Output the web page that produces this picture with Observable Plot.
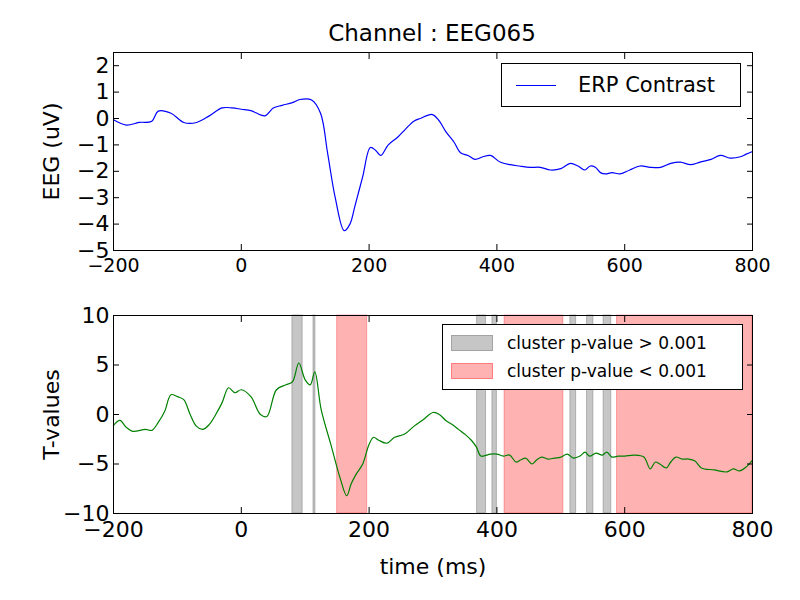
<!DOCTYPE html>
<html>
<head>
<meta charset="utf-8">
<script src="https://cdn.jsdelivr.net/npm/d3@7"></script>
<script src="https://cdn.jsdelivr.net/npm/@observablehq/plot@0.6"></script>
<style>
  body { margin: 0; background: white; font-family: "DejaVu Sans", sans-serif; }
  #wrap { position: relative; width: 800px; height: 600px; }
  .title { position: absolute; top: 20px; width: 800px; left: 32px; text-align: center; font-size: 23px; }
  .legend { position: absolute; background: white; border: 1.5px solid black; font-size: 17px; }
  .row { display: flex; align-items: center; height: 28px; }
  .sw { width: 40px; height: 14px; margin: 0 14px 0 8px; }
  svg { display: block; }
</style>
</head>
<body>
<div id="wrap">
<div class="title">Channel : EEG065</div>
<div id="chart"></div>
</div>
<script>
// ERP contrast (uV), time in ms
const erpTime = [-200,-180,-160,-140,-130,-110,-90,-70,-50,-30,-14,0,15,37,50,64,80,92,110,124,135,147,161,170,178,190,202,210,218,230,245,257,270,280,299,310,320,333,343,355,366,378,390,405,421,435,452,468,484,500,515,527,538,546,554,562,570,580,593,608,624,640,656,672,687,703,718,735,750,765,781,790,800];
const erpValue = [-0.05,-0.25,-0.15,-0.1,0.28,0.2,-0.15,-0.15,0.1,0.4,0.4,0.35,0.3,0.1,0.4,0.5,0.6,0.72,0.7,0.2,-1.3,-3.0,-4.25,-4.0,-3.3,-2.2,-1.1,-1.2,-1.4,-1.0,-0.7,-0.4,-0.1,0.0,0.15,-0.1,-0.5,-0.9,-1.3,-1.4,-1.55,-1.45,-1.4,-1.65,-1.75,-1.8,-1.85,-1.85,-1.95,-1.9,-1.7,-1.8,-1.95,-1.8,-1.85,-2.05,-2.1,-2.05,-2.1,-1.95,-1.8,-1.85,-1.85,-1.7,-1.65,-1.75,-1.65,-1.55,-1.4,-1.5,-1.45,-1.35,-1.25];

// T-values
const tTime = [-200,-190,-180,-170,-150,-140,-130,-120,-110,-100,-90,-80,-70,-60,-50,-40,-30,-20,-10,0,15,30,40,55,70,80,90,100,108,115,125,140,155,165,172,180,190,200,207,215,228,240,255,270,285,300,310,320,330,340,350,360,368,375,390,400,410,420,430,437,445,455,462,470,480,490,500,510,520,530,538,545,555,565,572,580,590,600,615,630,640,648,655,665,672,680,690,700,710,720,740,760,770,780,790,800];
const tValue = [-1.1,-0.6,-1.3,-1.7,-1.5,-1.6,-0.8,0.3,2.0,1.8,1.5,0.0,-1.2,-1.5,-1.0,0.0,1.2,2.7,2.2,2.5,1.8,0.0,-0.2,2.5,3.0,3.3,5.2,3.5,3.0,4.3,0.5,-3.0,-6.5,-8.2,-7.0,-6.0,-5.0,-3.0,-2.3,-2.6,-2.9,-2.3,-2.0,-1.2,-0.5,0.2,0.0,-0.6,-1.0,-1.5,-2.0,-2.6,-3.3,-4.2,-4.0,-4.0,-4.2,-4.1,-4.8,-4.6,-4.4,-5.0,-4.6,-4.3,-4.5,-4.4,-4.3,-4.0,-4.4,-4.2,-3.8,-4.2,-3.9,-4.1,-3.8,-4.3,-4.2,-4.2,-4.1,-4.3,-5.5,-4.8,-5.0,-5.4,-4.8,-4.3,-4.5,-4.5,-4.7,-5.4,-5.6,-5.8,-5.5,-5.7,-5.3,-4.6];

// clusters [start, end] in ms
const grayStart = [80, 113, 369, 393, 515, 541, 567];
const grayEnd   = [96, 116, 383, 400, 524, 551, 579];
const redStart  = [150, 412, 588];
const redEnd    = [197, 504, 800];

const erp = erpTime.map((t, i) => ({t, v: erpValue[i]}));
const tv = tTime.map((t, i) => ({t, v: tValue[i]}));
const gray = grayStart.map((s, i) => ({s, e: grayEnd[i]}));
const red = redStart.map((s, i) => ({s, e: redEnd[i]}));

const minus = d => d < 0 ? "\u2212" + (-d) : String(d);
const blank = () => "";
const xTicks = [-200, 0, 200, 400, 600, 800];

const common = {
  width: 800,
  marginLeft: 113,
  marginRight: 48,
  style: {fontFamily: "DejaVu Sans", fontSize: "19px", color: "black", background: "white"}
};

const topChart = Plot.plot({
  ...common,
  height: 285,
  marginTop: 52,
  marginBottom: 35,
  x: {domain: [-200, 800]},
  y: {domain: [-5, 2.5]},
  marks: [
    Plot.line(erp, {x: "t", y: "v", stroke: "blue", strokeWidth: 1.2, curve: "catmull-rom"}),
    Plot.axisX({ticks: xTicks, tickSize: -6, tickPadding: 14, tickFormat: minus, label: null}),
    Plot.axisX({anchor: "top", ticks: xTicks, tickSize: -6, tickFormat: blank, label: null}),
    Plot.axisY({ticks: d3.range(-5, 3), tickSize: -6, tickPadding: 10, tickFormat: minus,
      label: "EEG (uV)", labelAnchor: "center", labelArrow: "none", labelOffset: 70, fontSize: 22}),
    Plot.axisY({anchor: "right", ticks: d3.range(-5, 3), tickSize: -6, tickFormat: blank, label: null}),
    Plot.frame({stroke: "black"})
  ]
});

const bottomChart = Plot.plot({
  ...common,
  height: 315,
  marginTop: 30,
  marginBottom: 87,
  x: {domain: [-200, 800]},
  y: {domain: [-10, 10]},
  marks: [
    Plot.rect(gray, {x1: "s", x2: "e", fill: "#808080", fillOpacity: 0.45, stroke: "#808080", strokeOpacity: 0.5}),
    Plot.rect(red, {x1: "s", x2: "e", fill: "#ff0000", fillOpacity: 0.3, stroke: "#ff0000", strokeOpacity: 0.3}),
    Plot.line(tv, {x: "t", y: "v", stroke: "green", strokeWidth: 1.2, curve: "catmull-rom"}),
    Plot.axisX({ticks: xTicks, tickSize: -6, tickPadding: 14, tickFormat: minus,
      label: "time (ms)", labelAnchor: "center", labelArrow: "none", labelOffset: 60, fontSize: 22}),
    Plot.axisX({anchor: "top", ticks: xTicks, tickSize: -6, tickFormat: blank, label: null}),
    Plot.axisY({ticks: [-10, -5, 0, 5, 10], tickSize: -6, tickPadding: 10, tickFormat: minus,
      label: "T-values", labelAnchor: "center", labelArrow: "none", labelOffset: 70, fontSize: 22}),
    Plot.axisY({anchor: "right", ticks: [-10, -5, 0, 5, 10], tickSize: -6, tickFormat: blank, label: null}),
    Plot.frame({stroke: "black"})
  ]
});

const chart = d3.select("#chart");
chart.append(() => topChart);
chart.append(() => bottomChart);

const wrap = d3.select("#wrap");
wrap.append("div").attr("class", "legend")
  .style("left", "501px").style("top", "63px").style("width", "238px").style("height", "42px")
  .style("font-size", "21px")
  .html('<div class="row" style="height:42px"><div class="sw" style="height:0;border-top:1.5px solid blue;margin:0 22px 0 14px"></div>ERP Contrast</div>');
wrap.append("div").attr("class", "legend")
  .style("left", "442px").style("top", "324px").style("width", "299px").style("height", "64px")
  .html('<div style="padding-top:4px">' +
    '<div class="row"><div class="sw" style="background:rgba(128,128,128,0.45);border:1px solid rgba(128,128,128,0.5)"></div>cluster p-value &gt; 0.001</div>' +
    '<div class="row"><div class="sw" style="background:rgba(255,0,0,0.3);border:1px solid rgba(255,0,0,0.3)"></div>cluster p-value &lt; 0.001</div></div>');
</script>
</body>
</html>
